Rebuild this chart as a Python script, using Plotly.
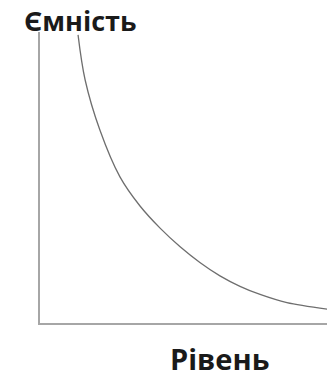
import plotly.graph_objects as go

# Curve (arbitrary units, 0-100)
level = [12.9, 15.3, 20.3, 27.1, 33.9, 40.7, 47.5, 54.2, 61.0, 67.8, 74.6, 83.7, 99.3, 100]
capacity = [99.0, 83.5, 66.3, 50.2, 40.2, 32.6, 26.2, 20.8, 16.2, 12.6, 9.8, 7.0, 4.5, 4.4]

y_title = "Ємність"
x_title = "Рівень"

fig = go.Figure()
fig.add_trace(go.Scatter(
    x=level, y=capacity, mode="lines",
    line=dict(color="#6e6e6e", width=1.3, shape="spline", smoothing=1.0),
    hoverinfo="skip", showlegend=False,
))

# The page body adds an 8px margin; the figure is sized to fill the rest.
fig.update_layout(
    width=327, height=367,
    margin=dict(l=32, r=0, t=24, b=52),
    paper_bgcolor="white", plot_bgcolor="white",
    xaxis=dict(range=[0, 100], showgrid=False, zeroline=False, showticklabels=False,
               ticks="", showline=True, linecolor="#a6a6a6", linewidth=2, fixedrange=True),
    yaxis=dict(range=[0, 100], showgrid=False, zeroline=False, showticklabels=False,
               ticks="", showline=True, linecolor="#a6a6a6", linewidth=2, fixedrange=True),
    annotations=[
        dict(text=f"<b>{y_title}</b>", xref="paper", yref="paper", x=-0.06, y=1.0,
             xanchor="left", yanchor="middle", yshift=12, showarrow=False,
             font=dict(family="Open Sans", size=27, color="#1a1a1a")),
        dict(text=f"<b>{x_title}</b>", xref="paper", yref="paper", x=0.61, y=0,
             xanchor="center", yanchor="middle", yshift=-35, showarrow=False,
             font=dict(family="Open Sans", size=29, color="#1a1a1a")),
    ],
)

fig.write_html("out.html")
